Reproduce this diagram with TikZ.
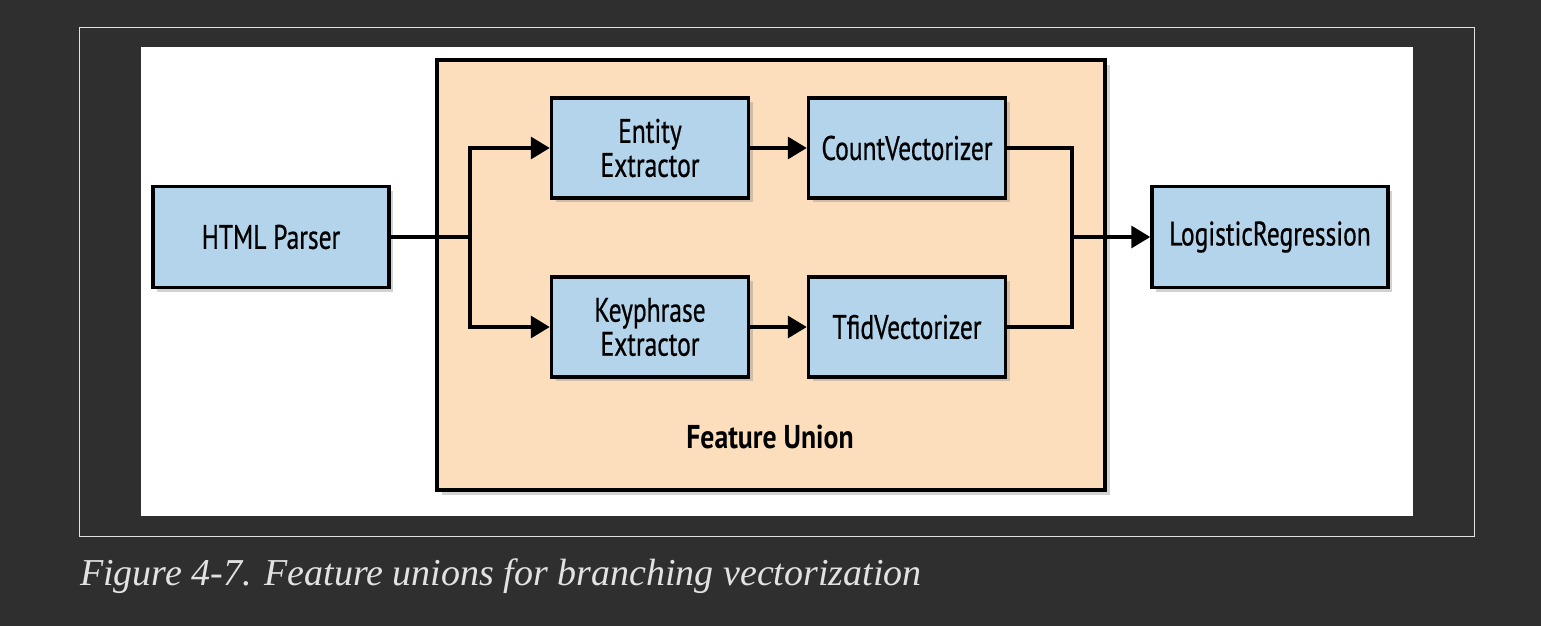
\documentclass[tikz,border=0pt]{standalone}
\usepackage{fontspec}
\usetikzlibrary{arrows.meta,shadows}
\newfontfamily\boxfont[FakeStretch=0.75,FakeBold=0.6]{PT Sans}
\newfontfamily\labelfont[FakeStretch=0.84]{PT Sans}
\newfontfamily\capfont{Liberation Serif}
\definecolor{pagebg}{HTML}{2F2F2F}
\definecolor{stepblue}{HTML}{B3D4EA}
\definecolor{unionfill}{HTML}{FCDEBC}
\definecolor{capgray}{HTML}{E2E2E2}
\tikzset{
  stepbox/.style={draw=black, line width=3.5pt, fill=stepblue, align=center,
    font=\boxfont\fontsize{34}{34}\selectfont,
    drop shadow={shadow xshift=4pt, shadow yshift=-4pt, opacity=0.35}},
  unionbox/.style={draw=black, line width=3.5pt, fill=unionfill,
    drop shadow={shadow xshift=5pt, shadow yshift=-5pt, opacity=0.35}},
  link/.style={line width=3.5pt},
  flow/.style={line width=3.5pt, -{Triangle[length=19pt,width=22pt]}}
}
\begin{document}
\begin{tikzpicture}[x=1pt,y=-1pt]
\useasboundingbox (0,0) rectangle (1541,626);
\fill [pagebg] (0,0) rectangle (1541,626);
\draw [capgray, line width=1pt] (79.5,27.5) rectangle (1474.5,536.5);
\fill [white] (141,47) rectangle (1413,516);

% feature union frame
\node [unionbox, minimum width=668pt, minimum height=430pt] (union) at (771,275) {};
\node [font=\labelfont\bfseries\fontsize{33}{33}\selectfont] (unionlabel) at (770,437) {Feature Union};

\node [stepbox, minimum width=236pt, minimum height=101pt] (parser) at (271,237) {HTML Parser};
\node [stepbox, minimum width=197pt, minimum height=100pt] (entity) at (650,148) {Entity\\Extractor};
\node [stepbox, minimum width=197pt, minimum height=100pt] (count) at (907,148) {CountVectorizer};
\node [stepbox, minimum width=197pt, minimum height=100pt] (keyphrase) at (650,327) {Keyphrase\\Extractor};
\node [stepbox, minimum width=197pt, minimum height=100pt] (tfid) at (907,327) {TfidVectorizer};
\node [stepbox, minimum width=236pt, minimum height=101pt] (logreg) at (1270,237) {LogisticRegression};

\coordinate (split) at (470,237);
\coordinate (merge) at (1072,237);

\draw [link] (parser) -- (split);
\draw [flow] (split) |- (entity);
\draw [flow] (split) |- (keyphrase);
\draw [flow] (entity) -- (count);
\draw [flow] (keyphrase) -- (tfid);
\draw [link] (count) -| (merge);
\draw [link] (tfid) -| (merge);
\draw [flow] (merge) -- (logreg);

\node [anchor=base west, inner sep=0pt, text=capgray, font=\capfont\itshape\fontsize{38}{38}\selectfont] (caption) at (80,585) {Figure 4-7. Feature unions for branching vectorization};
\end{tikzpicture}
\end{document}
